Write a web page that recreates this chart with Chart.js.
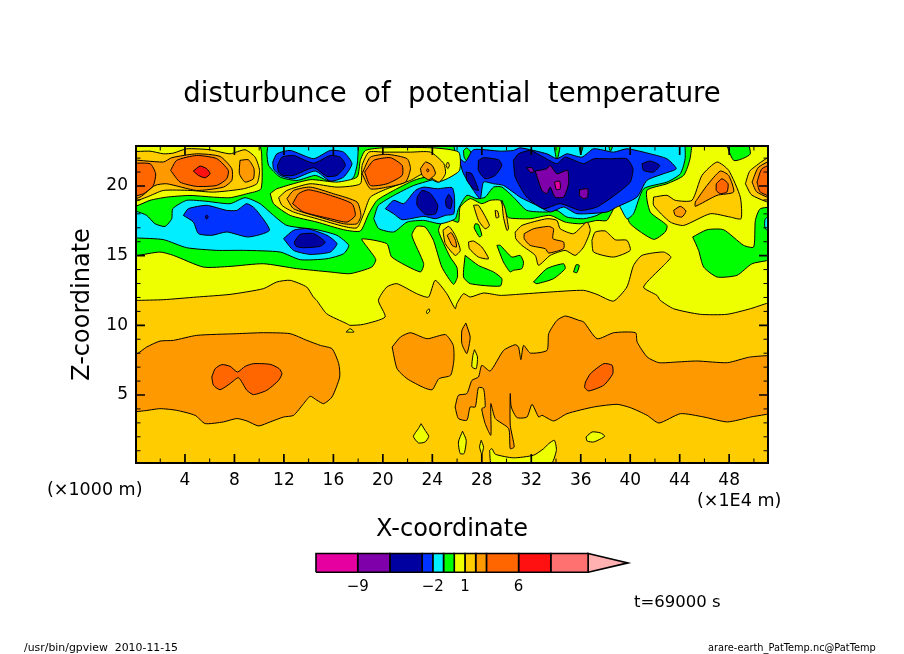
<!DOCTYPE html>
<html>
<head>
<meta charset="utf-8">
<title>disturbunce of potential temperature</title>
<script src="https://cdn.jsdelivr.net/npm/chart.js@4"></script>
<style>
  html, body { margin: 0; padding: 0; background: #fff; }
  #wrap { position: relative; width: 904px; height: 654px; overflow: hidden; }
  #plot { position: absolute; left: 0; top: 0; }
  #bar { position: absolute; left: 300px; top: 540px; }
</style>
</head>
<body>
<div id="wrap">
  <canvas id="plot" width="904" height="654"></canvas>
  <canvas id="bar" width="340" height="60"></canvas>
</div>
<script>
// axis ticks (x in 1E4 m, z in 1000 m)
const xMajor = [4, 8, 12, 16, 20, 24, 28, 32, 36, 40, 44, 48];
const xMinor = [2, 6, 10, 14, 18, 22, 26, 30, 34, 38, 42, 46, 50];
const yMajor = [5, 10, 15, 20];
const yMinor = [1, 2, 3, 4, 6, 7, 8, 9, 11, 12, 13, 14, 16, 17, 18, 19, 21, 22];

// colour bar
const barLevels = [-12.89, -9, -6, -3, -2, -1, 0, 1, 2, 3, 6, 9, 12.48];
const barColors = ['#e600a0', '#7f00aa', '#0000a0', '#0033ff', '#00eeff', '#00ff00', '#eeff00', '#ffcc00', '#ff9900', '#ff6600', '#ff1111', '#ff7070'];
const barLabels = [-9, -2, 1, 6];
const barTip = [[12.48, 0], [16.2, 0.5], [12.48, 1]];

// contour colours, one per band
const MAG = barColors[0], PUR = barColors[1], DBL = barColors[2], BLU = barColors[3], CYA = barColors[4], GRN = barColors[5];
const YEL = barColors[6], GLD = barColors[7], ORG = barColors[8], DOR = barColors[9], RED = barColors[10];

// contours, [x, z]
const goldBase = [[-1, -1], [52, -1], [52, 24], [-1, 24]];
const yellowTop = [[-1, 11.79], [0.04, 11.79], [2.25, 11.84], [4.94, 12.03], [7.64, 12.22], [10.34, 12.63], [11.42, 13.11], [12.5, 13.23], [13.84, 12.75], [14.38, 12.03], [14.65, 11.79], [15.46, 10.83], [17.08, 10.12], [17.35, 10.0], [18.43, 10.07], [20.18, 10.6], [19.64, 11.79], [20.32, 12.75], [21.13, 12.99], [22.74, 12.27], [23.69, 12.03], [24.23, 13.23], [25.17, 12.27], [25.85, 11.19], [25.98, 11.55], [26.52, 12.27], [27.06, 12.03], [28.14, 12.32], [29.49, 12.15], [30.83, 12.22], [33.53, 12.39], [36.23, 12.51], [37.31, 12.22], [38.65, 11.74], [39.73, 12.75], [40.27, 14.3], [40.95, 15.02], [42.7, 15.26], [43.29, 14.9], [42.7, 14.3], [41.08, 12.75], [42.16, 12.15], [42.43, 11.79], [43.51, 11.19], [45.67, 10.79], [47.82, 10.79], [49.71, 11.19], [51.14, 11.6], [52, 11.7], [52, 24], [-1, 24]];
const yellowNotch = [[17.03, 9.52], [17.35, 9.76], [17.67, 9.52]];
const yellowDot = [[23.72, 11.19], [23.8, 11.03], [23.58, 10.83], [23.53, 11.0]];
const yellowDrop = [[23.09, 2.94], [23.42, 2.46], [23.71, 2.03], [23.42, 1.63], [22.88, 1.56], [22.47, 2.03], [22.88, 2.6]];
const yellowA = [[26.44, 2.4], [26.74, 1.75], [26.57, 0.8], [26.25, 0.8], [26.11, 1.63]];
const yellowB = [[27.41, 8.25], [27.65, 7.73], [27.55, 6.89], [27.2, 7.01], [27.28, 7.85]];
const yellowC = [[27.95, 1.75], [28.14, 1.27], [28.0, 0.75], [27.82, 1.27]];
const yellowD = [[36.43, 1.99], [36.92, 2.35], [37.59, 2.28], [37.94, 2.04], [37.05, 1.63], [36.51, 1.7]];
const yellowFloor = [[28.63, 1.03], [28.82, 1.15], [29.09, 0.75], [30.57, 0.49], [32.19, 0.68], [33.0, 1.15], [33.41, 1.51], [33.87, 1.75], [34.03, 1.03], [33.54, 0], [28.82, 0]];

const orangeLeft = [[-1, 7.92], [0.04, 7.92], [0.9, 8.44], [1.98, 8.87], [3.06, 8.92], [4.95, 9.28], [8.19, 9.4], [10.34, 9.47], [12.5, 9.4], [13.86, 8.92], [14.94, 8.56], [15.89, 8.32], [16.43, 7.25], [16.51, 6.29], [15.89, 4.86], [15.21, 4.38], [14.67, 4.62], [14.13, 4.91], [13.59, 4.38], [12.78, 3.54], [11.97, 3.42], [10.89, 3.07], [9.95, 2.78], [9.0, 3.14], [8.19, 3.31], [7.11, 3.07], [5.63, 2.95], [4.82, 3.54], [3.33, 3.9], [1.98, 4.02], [0.63, 3.86], [-1, 3.86]];
const orangeMid = [[20.75, 8.44], [21.42, 9.16], [22.23, 9.47], [23.58, 9.04], [25.07, 9.33], [25.69, 8.56], [25.74, 7.49], [25.47, 6.41], [24.53, 6.17], [23.99, 5.38], [23.31, 5.53], [21.96, 6.17], [21.15, 6.89]];
const orangeRight = [[25.84, 4.14], [26.11, 4.98], [26.79, 5.1], [27.2, 6.05], [27.73, 6.29], [28.0, 7.13], [28.68, 6.72], [29.76, 8.2], [30.7, 8.61], [30.97, 8.44], [31.16, 7.54], [31.38, 8.56], [31.92, 8.01], [33.27, 8.2], [33.41, 9.4], [34.08, 10.36], [34.76, 10.67], [35.84, 10.36], [36.24, 10.24], [37.32, 9.04], [38.67, 9.47], [40.43, 9.47], [40.56, 8.8], [41.37, 7.73], [42.32, 7.32], [43.8, 7.37], [45.42, 7.44], [47.85, 7.32], [49.74, 7.73], [52, 7.68], [52, 3.95], [49.74, 3.42], [47.85, 3.07], [45.96, 3.42], [44.07, 3.66], [42.32, 2.99], [41.37, 3.54], [40.02, 4.09], [38.94, 4.33], [37.05, 4.14], [34.89, 3.66], [33.81, 3.14], [32.87, 3.54], [32.6, 3.42], [32.06, 4.33], [31.65, 3.42], [30.84, 3.38], [30.38, 4.14], [30.3, 5.1], [30.3, 2.83], [30.62, 1.27], [30.3, 1.15], [30.17, 2.59], [29.09, 3.31], [28.73, 4.38], [28.73, 2.11], [28.27, 2.95], [28.0, 4.02], [28.27, 4.14], [28.14, 5.46], [27.73, 5.53], [27.47, 4.14], [27.06, 4.14], [26.79, 3.19], [26.11, 3.31]];
const orangeSliver = [[26.71, 10.16], [27.06, 9.16], [26.79, 7.97], [26.39, 8.68], [26.39, 9.64]];
const darkLow = [[6.17, 6.29], [6.44, 6.89], [6.98, 7.18], [7.65, 7.06], [8.24, 6.65], [8.87, 7.06], [9.54, 7.25], [10.89, 7.2], [11.62, 6.89], [11.84, 6.53], [11.57, 6.05], [10.62, 5.34], [9.54, 5.03], [9.0, 5.34], [8.33, 6.24], [7.65, 5.82], [6.84, 5.38], [6.3, 5.7]];
const darkOval = [[36.38, 5.93], [36.78, 6.53], [37.86, 7.25], [38.54, 7.13], [38.59, 6.53], [37.86, 5.7], [36.65, 5.29], [36.32, 5.53]];

const greenMain = [[-1, 15.0], [0.04, 15.0], [1.98, 15.26], [3.06, 15.02], [5.49, 14.18], [7.64, 14.23], [10.34, 14.42], [13.03, 14.07], [15.73, 13.83], [17.35, 13.71], [19.1, 14.18], [19.43, 14.71], [18.83, 15.5], [18.3, 16.2], [20.32, 15.86], [20.72, 14.9], [23.03, 13.83], [23.3, 14.42], [22.35, 16.45], [22.74, 17.1], [23.42, 17.05], [24.09, 16.1], [24.77, 14.18], [25.71, 12.94], [26.03, 13.47], [25.98, 14.18], [25.44, 14.9], [24.92, 15.86], [24.5, 16.8], [24.77, 17.41], [25.44, 17.58], [26.11, 17.41], [26.25, 18.49], [27.06, 19.09], [28.0, 18.73], [28.68, 18.97], [29.49, 18.97], [29.89, 18.13], [30.16, 17.72], [31.91, 17.65], [33.53, 17.89], [34.74, 17.41], [35.96, 17.29], [37.31, 17.53], [38.11, 17.53], [38.92, 18.73], [39.46, 18.49], [40.0, 17.29], [41.89, 16.17], [42.83, 16.7], [42.97, 17.17], [41.62, 18.13], [41.35, 19.68], [42.97, 20.16], [44.32, 20.76], [44.86, 22.07], [44.8, 24], [10.07, 24], [10.2, 22.31], [10.15, 19.8], [8.99, 19.44], [7.64, 19.16], [6.3, 19.2], [4.4, 19.32], [2.52, 19.2], [1.17, 18.97], [0.04, 18.56], [-1, 18.56]];
const greenRight = [[45.05, 16.34], [46.21, 16.86], [47.55, 16.86], [49.17, 15.74], [49.98, 15.62], [50.12, 17.53], [50.52, 18.37], [52, 18.37], [52, 14.95], [49.85, 14.42], [48.63, 13.59], [47.02, 13.47], [45.94, 14.18], [45.53, 15.38]];
const greenCorner = [[47.42, 24], [48.36, 21.84], [49.71, 22.31], [49.04, 24]];
const greenA = [[27.46, 17.29], [27.73, 17.24], [28.0, 16.46], [27.81, 16.34], [27.38, 17.0]];
const greenB = [[29.22, 15.74], [29.49, 15.74], [30.43, 14.9], [31.1, 15.02], [31.37, 14.54], [31.24, 14.07], [30.56, 13.95], [30.29, 13.83], [29.75, 14.54]];
const greenC = [[26.65, 15.02], [27.73, 14.3], [28.95, 13.83], [29.62, 13.35], [29.49, 12.82], [27.06, 12.99], [26.52, 13.47]];
const greenD = [[32.18, 13.11], [33.26, 14.07], [34.61, 14.42], [34.74, 14.07], [33.8, 13.35], [32.45, 12.99]];
const greenE = [[35.42, 13.83], [35.63, 14.35], [35.88, 14.3], [35.69, 13.78]];

const cyanLeft = [[-1, 18.18], [0.04, 18.18], [0.9, 17.89], [1.58, 17.29], [2.39, 17.1], [2.93, 17.65], [3.01, 18.37], [4.14, 18.97], [5.76, 18.9], [7.64, 18.73], [8.86, 19.16], [10.07, 18.73], [11.16, 17.89], [12.24, 17.17], [14.67, 16.86], [16.29, 16.46], [17.24, 15.74], [16.83, 15.14], [15.48, 14.78], [13.32, 14.71], [11.7, 15.26], [8.73, 15.38], [6.57, 15.38], [4.14, 15.57], [2.25, 16.15], [0.04, 16.27], [-1, 16.27]];
const cyanTop = [[10.62, 22.31], [11.03, 24], [17.78, 24], [17.96, 21.84], [17.64, 20.64], [16.83, 20.16], [15.48, 20.4], [14.54, 20.76], [13.05, 20.4], [11.7, 20.64], [10.76, 21.48]];
const cyanBig = [[19.26, 17.65], [19.67, 16.94], [20.88, 16.7], [21.96, 17.41], [23.31, 17.53], [24.66, 17.29], [25.85, 17.65], [26.11, 18.37], [26.79, 19.33], [27.6, 19.09], [28.27, 19.2], [28.95, 19.92], [29.62, 19.92], [30.56, 19.2], [31.64, 18.25], [33.26, 18.13], [34.07, 18.25], [34.88, 17.77], [36.23, 17.65], [37.31, 17.89], [38.39, 18.49], [38.92, 18.85], [39.73, 17.65], [40.27, 18.01], [41.08, 19.8], [42.97, 20.28], [44.05, 20.88], [44.45, 22.07], [44.05, 24], [25.71, 24], [25.85, 22.31], [25.7, 21], [22.5, 20.04], [20.88, 19.32], [19.64, 18.61]];
const cyanEdge = [[52, 18.13], [50.93, 17.65], [50.93, 16.93], [52, 16.46]];
const greenIsle = [[26.52, 22.55], [26.79, 22.74], [27.11, 22.43], [27.11, 21.95], [26.79, 21.79], [26.57, 22.07]];
const greenSpikeA = [[33.67, 24], [34.07, 21.84], [34.47, 24]];
const greenSpikeB = [[35.7, 24], [36.0, 22.3], [36.4, 24]];
const greenSpikeC = [[38.0, 24], [38.4, 22.5], [38.9, 24]];

const blueLeft = [[3.87, 17.89], [4.27, 18.37], [5.76, 18.61], [7.38, 18.25], [8.19, 18.25], [8.99, 18.73], [9.67, 18.37], [10.83, 16.82], [9.13, 16.34], [7.38, 16.7], [6.17, 16.46], [5.09, 16.58], [4.68, 17.41]];
const blueMid = [[11.97, 16.22], [12.78, 16.82], [13.86, 16.94], [15.48, 16.46], [16.29, 15.86], [15.75, 15.26], [14.13, 15.09], [12.78, 15.38]];
const blueTop = [[11.1, 21.72], [11.43, 22.31], [12.51, 22.55], [14.4, 21.96], [15.75, 22.55], [16.83, 22.43], [17.5, 21.6], [16.83, 20.64], [15.75, 20.35], [14.54, 21.07], [12.78, 20.52], [11.7, 20.76], [11.16, 21.24]];
const blueRight = [[20.2, 18.37], [20.88, 18.97], [21.69, 18.73], [22.63, 19.68], [23.31, 19.92], [24.39, 19.8], [25.6, 19.88], [25.79, 19.2], [25.73, 18.0], [25.06, 17.89], [24.25, 17.65], [23.31, 17.82], [21.56, 17.58], [20.88, 18.0]];
const blueBig = [[26.11, 22.07], [26.65, 21.72], [27.33, 22.6], [29.49, 22.5], [30.56, 22.55], [31.1, 22.74], [33.26, 22.31], [34.07, 21.96], [34.88, 22.31], [36.09, 22.07], [37.04, 22.67], [38.65, 22.43], [39.73, 22.67], [41.62, 22.31], [42.97, 21.95], [43.72, 21.24], [42.7, 20.88], [41.35, 20.4], [40.54, 19.2], [38.92, 18.49], [38.11, 18.13], [35.69, 18.01], [34.61, 18.49], [33.53, 18.13], [32.45, 18.61], [31.1, 19.2], [29.75, 20.04], [28.95, 20.16], [28.14, 20.28], [27.87, 19.09], [27.33, 19.68], [26.52, 20.88]];

const deepDot = [[5.64, 17.77], [5.76, 17.92], [5.88, 17.77], [5.76, 17.62]];
const deepMid = [[12.83, 15.98], [13.32, 16.53], [14.4, 16.58], [15.34, 15.98], [14.94, 15.67], [13.59, 15.57], [12.97, 15.67]];
const deepTop = [[11.48, 21.48], [11.84, 22.07], [12.78, 22.19], [14.4, 21.64], [15.75, 22.19], [16.56, 22.07], [16.97, 21.48], [16.29, 20.76], [15.48, 20.69], [14.4, 21.31], [12.78, 20.76], [11.97, 20.76], [11.57, 21.0]];
const deepRightA = [[22.77, 19.2], [23.18, 19.68], [23.85, 19.45], [24.44, 18.61], [24.25, 18.0], [23.45, 17.96], [22.77, 18.61]];
const deepRightB = [[25.06, 18.97], [25.33, 19.4], [25.6, 18.97], [25.47, 18.37], [25.15, 18.49]];
const deepBig = [[30.56, 21.84], [30.97, 22.31], [31.91, 22.55], [32.99, 22.07], [34.07, 21.6], [34.74, 22.07], [36.23, 21.6], [37.04, 21.95], [38.39, 21.95], [39.73, 21.95], [40.22, 21.24], [40.0, 20.28], [38.92, 19.45], [37.31, 18.49], [35.96, 18.25], [34.34, 18.73], [32.99, 18.37], [31.64, 19.2], [30.7, 20.64]];
const deepA = [[27.73, 21.84], [28.14, 22.03], [29.35, 21.88], [29.62, 21.48], [29.08, 20.76], [28.27, 20.52], [27.73, 21.12]];
const deepB = [[26.73, 21.0], [27.19, 20.88], [27.73, 19.68], [27.33, 19.8], [26.79, 20.4]];
const deepC = [[40.95, 21.6], [41.62, 21.79], [42.38, 21.48], [41.89, 21.0], [41.08, 21.12]];
const purpleA = [[32.32, 21.07], [33.26, 21.24], [33.53, 21.48], [34.07, 20.88], [34.93, 21.12], [35.01, 20.16], [34.61, 19.2], [33.93, 19.2], [33.53, 19.92], [33.26, 19.45], [32.86, 19.68]];
const purpleB = [[31.64, 21.31], [32.05, 21.31], [32.24, 21.0], [31.91, 21.0]];
const purpleC = [[35.9, 19.73], [36.55, 19.8], [36.55, 19.2], [36.23, 19.09], [35.9, 19.32]];
const magentaCore = [[33.88, 20.28], [34.29, 20.35], [34.34, 19.8], [34.02, 19.75]];

const goldLeft = [[-1, 22.43], [1.17, 22.5], [2.25, 22.31], [3.06, 22.36], [4.14, 22.67], [6.03, 22.6], [7.64, 22.31], [8.86, 22.6], [9.67, 22.07], [10.03, 21.12], [9.81, 20.16], [8.73, 19.8], [6.3, 19.56], [4.41, 19.68], [2.25, 19.68], [0.9, 19.2], [-1, 18.73]];
const orangeTopLeft = [[-1, 21.95], [2.25, 21.72], [2.93, 22.03], [4.95, 22.31], [6.84, 22.12], [7.79, 21.24], [7.79, 20.4], [7.11, 19.92], [4.95, 19.68], [2.52, 20.16], [1.58, 20.04], [0.36, 19.2], [-1, 18.97]];
const orangeIsle = [[8.45, 21.84], [9.13, 21.88], [9.58, 21.24], [9.53, 20.52], [8.86, 20.28], [8.4, 20.88]];
const darkEdgeLeft = [[-1, 21.6], [1.17, 21.6], [1.63, 20.88], [1.44, 20.04], [0.63, 19.44], [-1, 19.2]];
const darkTopLeft = [[2.84, 21.12], [3.33, 21.84], [4.95, 22.19], [6.57, 21.96], [7.5, 21.12], [7.38, 20.52], [6.57, 20.04], [4.95, 19.97], [3.6, 20.28]];
const redCore = [[4.68, 21.07], [5.22, 21.43], [5.76, 21.24], [6.03, 20.88], [5.63, 20.59], [5.09, 20.76]];

const yellowMid = [[10.89, 19.45], [11.43, 19.8], [14.13, 20.45], [16.29, 20.28], [17.91, 20.64], [18.18, 21.84], [18.59, 22.55], [20.07, 22.74], [23.98, 22.74], [26.13, 22.43], [26.2, 21.12], [25.2, 20.52], [24.39, 20.28], [23.58, 20.64], [22.5, 20.4], [20.88, 19.68], [19.53, 18.97], [18.85, 18.0], [18.18, 16.77], [16.83, 16.86], [14.67, 17.41], [12.51, 17.89], [11.16, 18.73]];
const goldMid = [[11.57, 19.16], [12.24, 19.68], [14.13, 20.16], [16.29, 19.92], [18.18, 20.16], [18.32, 21.48], [18.86, 22.43], [20.07, 22.43], [22.23, 22.43], [23.85, 22.43], [24.93, 21.6], [25.06, 20.88], [24.53, 20.28], [23.31, 20.88], [22.23, 20.4], [20.34, 19.8], [18.99, 19.2], [18.45, 18.0], [17.91, 17.0], [16.83, 17.1], [14.67, 17.65], [12.78, 18.13], [11.84, 18.61]];
const orangeMidTop = [[12.24, 19.09], [12.78, 19.68], [14.13, 19.92], [16.02, 19.44], [17.91, 18.85], [18.23, 17.89], [17.91, 17.29], [16.83, 17.29], [14.67, 17.82], [12.78, 18.37]];
const darkMidTop = [[12.7, 18.73], [13.19, 19.45], [14.0, 19.73], [15.75, 19.33], [17.5, 18.73], [17.77, 17.89], [17.1, 17.41], [15.75, 17.65], [13.59, 18.13]];
const orangeNear = [[18.32, 20.88], [18.99, 22.07], [20.34, 22.27], [21.96, 21.96], [22.23, 21.24], [21.83, 20.28], [20.34, 19.92], [18.99, 19.8]];
const darkNear = [[18.53, 21.0], [19.26, 21.84], [20.61, 22.03], [21.56, 21.48], [21.56, 20.76], [20.34, 20.16], [18.99, 20.04]];
const orangeSmall = [[23.04, 21.24], [23.45, 21.72], [23.98, 21.48], [24.25, 20.88], [23.71, 20.45], [23.17, 20.76]];
const darkSpeck = [[23.53, 21.12], [23.63, 21.24], [23.73, 21.12], [23.63, 21.0]];
const goldSpeck = [[25.1, 21.48], [25.25, 21.72], [25.38, 21.48], [25.25, 21.25]];

const goldBlob = [[24.86, 16.82], [25.33, 17.1], [25.85, 16.46], [26.26, 15.38], [25.85, 15.02], [25.05, 15.86]];
const orangeBlob = [[25.2, 16.46], [25.53, 16.65], [25.87, 16.1], [25.95, 15.62], [25.6, 15.74]];
const goldA = [[30.7, 16.69], [31.24, 17.17], [33.26, 17.65], [34.07, 17.53], [34.34, 16.93], [35.42, 16.58], [36.5, 17.41], [36.77, 16.81], [36.23, 15.62], [35.55, 15.02], [34.74, 15.38], [33.53, 15.02], [32.59, 14.31], [32.32, 15.02], [31.24, 15.74], [30.75, 16.22]];
const orangeA = [[31.43, 16.58], [32.18, 16.93], [33.4, 17.1], [33.8, 16.93], [33.75, 16.22], [34.61, 15.98], [34.61, 15.5], [33.4, 15.19], [33.13, 15.5], [31.91, 15.74], [31.43, 16.22]];
const goldB = [[36.9, 16.1], [37.17, 16.69], [37.98, 16.77], [38.79, 16.14], [39.73, 16.1], [40.0, 15.38], [38.65, 14.9], [37.04, 15.26]];
const goldC = [[27.33, 18.61], [27.73, 18.61], [28.62, 17.17], [28.27, 16.93], [27.73, 17.53]];
const goldD = [[26.92, 15.98], [27.33, 16.05], [28.0, 15.62], [28.54, 14.78], [27.73, 14.9], [27.0, 15.5]];
const goldE = [[29.08, 18.25], [29.27, 18.2], [29.38, 17.77], [29.16, 17.72]];
const goldF = [[29.62, 18.97], [29.89, 18.37], [30.16, 16.93], [30.03, 16.81], [29.75, 17.77]];

const goldRight = [[41.89, 19.2], [42.97, 19.33], [43.64, 18.97], [44.99, 18.97], [45.8, 20.76], [47.02, 21.72], [47.96, 21.12], [48.9, 19.2], [48.96, 17.65], [48.09, 17.77], [46.48, 18.01], [44.32, 17.17], [43.24, 17.41], [41.89, 18.61]];
const orangeFar = [[45.26, 18.85], [46.21, 20.04], [47.28, 21.07], [47.96, 20.76], [48.36, 19.57], [47.02, 19.33], [45.26, 18.54]];
const darkFar = [[46.96, 20.16], [47.42, 20.52], [47.91, 20.16], [47.82, 19.57], [47.28, 19.45], [46.96, 19.68]];
const orangeLow = [[43.51, 18.25], [44.05, 18.54], [44.51, 18.2], [44.18, 17.77], [43.64, 17.89]];
const goldEdge = [[49.31, 20.16], [49.71, 21.12], [52, 22.36], [52, 18.73], [49.85, 19.33]];
const orangeEdge = [[49.85, 20.28], [50.39, 21.36], [52, 21.95], [52, 19.0], [50.25, 19.56]];
const darkEdge = [[50.25, 20.28], [50.66, 21.24], [52, 21.64], [52, 19.16], [50.52, 19.56]];

// painted in this order, later on top
const layers = [
  [goldBase, GLD], [yellowTop, YEL], [yellowNotch, YEL], [yellowDot, YEL], [yellowDrop, YEL], [yellowA, YEL], [yellowB, YEL], [yellowC, YEL], [yellowD, YEL], [yellowFloor, YEL],
  [orangeLeft, ORG], [orangeMid, ORG], [orangeRight, ORG], [orangeSliver, ORG], [darkLow, DOR], [darkOval, DOR],
  [greenMain, GRN], [greenRight, GRN], [greenCorner, GRN], [greenA, GRN], [greenB, GRN], [greenC, GRN], [greenD, GRN], [greenE, GRN],
  [cyanLeft, CYA], [cyanTop, CYA], [cyanBig, CYA], [cyanEdge, CYA], [greenIsle, GRN], [greenSpikeA, GRN], [greenSpikeB, GRN], [greenSpikeC, GRN],
  [blueLeft, BLU], [blueMid, BLU], [blueTop, BLU], [blueRight, BLU], [blueBig, BLU],
  [deepDot, DBL], [deepMid, DBL], [deepTop, DBL], [deepRightA, DBL], [deepRightB, DBL], [deepBig, DBL], [deepA, DBL], [deepB, DBL], [deepC, DBL],
  [purpleA, PUR], [purpleB, PUR], [purpleC, PUR], [magentaCore, MAG],
  [goldLeft, GLD], [orangeTopLeft, ORG], [orangeIsle, ORG], [darkEdgeLeft, DOR], [darkTopLeft, DOR], [redCore, RED],
  [yellowMid, YEL], [goldMid, GLD], [orangeMidTop, ORG], [darkMidTop, DOR], [orangeNear, ORG], [darkNear, DOR], [orangeSmall, ORG], [darkSpeck, DOR], [goldSpeck, GLD],
  [goldBlob, GLD], [orangeBlob, ORG], [goldA, GLD], [orangeA, ORG], [goldB, GLD], [goldC, GLD], [goldD, GLD], [goldE, GLD], [goldF, GLD],
  [goldRight, GLD], [orangeFar, ORG], [darkFar, DOR], [orangeLow, ORG], [goldEdge, GLD], [orangeEdge, ORG], [darkEdge, DOR]
];

function contour(points, color, i, total) {
  const data = points.map(p => ({ x: p[0], y: p[1] }));
  data.push({ x: points[0][0], y: points[0][1] });
  return {
    data: data,
    backgroundColor: color,
    borderColor: '#000',
    borderWidth: 1,
    pointRadius: 0,
    showLine: true,
    fill: 'shape',
    tension: 0.2,
    order: total - i
  };
}

// ticks point inward on all four sides, plus the loose labels
const framePlugin = {
  id: 'frame',
  afterDraw(chart) {
    const ctx = chart.ctx, a = chart.chartArea, sx = chart.scales.x, sy = chart.scales.y;
    ctx.save();
    ctx.strokeStyle = '#000';
    const hTick = (v, len) => {
      const p = sx.getPixelForValue(v);
      ctx.beginPath();
      ctx.moveTo(p, a.bottom); ctx.lineTo(p, a.bottom - len);
      ctx.moveTo(p, a.top); ctx.lineTo(p, a.top + len);
      ctx.stroke();
    };
    const vTick = (v, len) => {
      const p = sy.getPixelForValue(v);
      ctx.beginPath();
      ctx.moveTo(a.left, p); ctx.lineTo(a.left + len, p);
      ctx.moveTo(a.right, p); ctx.lineTo(a.right - len, p);
      ctx.stroke();
    };
    ctx.lineWidth = 1.7;
    xMajor.forEach(v => hTick(v, 9));
    yMajor.forEach(v => vTick(v, 9));
    ctx.lineWidth = 1;
    xMinor.forEach(v => hTick(v, 4.5));
    yMinor.forEach(v => vTick(v, 4.5));
    ctx.lineWidth = 2;
    ctx.strokeRect(a.left, a.top, a.right - a.left, a.bottom - a.top);

    ctx.fillStyle = '#000';
    ctx.textBaseline = 'middle';
    ctx.textAlign = 'left';
    ctx.font = '17.5px "DejaVu Sans"';
    ctx.fillText('(×1000 m)', 47, 490);
    ctx.fillText('(×1E4 m)', 697, 501);
    ctx.font = '16.5px "DejaVu Sans"';
    ctx.fillText('t=69000 s', 634, 603);
    ctx.font = '10.9px "DejaVu Sans"';
    ctx.fillText('/usr/bin/gpview  2010-11-15', 24, 648);
    ctx.font = '9.8px "DejaVu Sans"';
    ctx.fillText('arare-earth_PatTemp.nc@PatTemp', 708, 648);
    ctx.restore();
  }
};

new Chart(document.getElementById('plot'), {
  type: 'scatter',
  data: { datasets: layers.map((l, i) => contour(l[0], l[1], i, layers.length)) },
  plugins: [framePlugin],
  options: {
    responsive: false,
    animation: false,
    events: [],
    plugins: {
      legend: { display: false },
      tooltip: { enabled: false },
      title: {
        display: true,
        text: 'disturbunce  of  potential  temperature',
        color: '#000',
        font: { family: '"DejaVu Sans"', size: 27.5, weight: 'normal', lineHeight: 1.2 },
        padding: { top: 78, bottom: 35 }
      }
    },
    scales: {
      x: {
        type: 'linear',
        min: 0.04,
        max: 51.14,
        afterBuildTicks: s => { s.ticks = xMajor.map(v => ({ value: v })); },
        afterFit: s => { s.height = 191; },
        grid: { display: false, drawTicks: false },
        border: { display: false },
        ticks: { color: '#000', padding: 7, maxRotation: 0, autoSkip: false, font: { family: '"DejaVu Sans"', size: 17 } },
        title: { display: true, text: 'X-coordinate', color: '#000', font: { family: '"DejaVu Sans"', size: 24, lineHeight: 1.2 }, padding: { top: 0, bottom: 110 } }
      },
      y: {
        type: 'linear',
        min: 0.12,
        max: 22.87,
        afterBuildTicks: s => { s.ticks = yMajor.map(v => ({ value: v })); },
        afterFit: s => { s.width = 136; },
        grid: { display: false, drawTicks: false },
        border: { display: false },
        ticks: { color: '#000', padding: 8, autoSkip: false, font: { family: '"DejaVu Sans"', size: 17 } },
        title: { display: true, text: 'Z-coordinate', color: '#000', font: { family: '"DejaVu Sans"', size: 24, lineHeight: 1.2 }, padding: { top: 68, bottom: 0 } }
      },
      // empty right margin so the title centres on the whole page
      margin: {
        type: 'linear',
        position: 'right',
        afterFit: s => { s.width = 136; },
        grid: { display: false, drawTicks: false },
        border: { display: false },
        ticks: { display: false }
      }
    }
  }
});

// colour bar, its own small chart
const cells = barColors.map((c, i) => ({
  data: [[barLevels[i], 0], [barLevels[i + 1], 0], [barLevels[i + 1], 1], [barLevels[i], 1], [barLevels[i], 0]].map(p => ({ x: p[0], y: p[1] })),
  backgroundColor: c,
  borderColor: '#000',
  borderWidth: 1.6,
  pointRadius: 0,
  showLine: true,
  fill: 'shape',
  clip: false
}));
cells.push({
  data: barTip.concat([barTip[0]]).map(p => ({ x: p[0], y: p[1] })),
  backgroundColor: '#ffb0b0',
  borderColor: '#000',
  borderWidth: 1.6,
  pointRadius: 0,
  showLine: true,
  fill: 'shape',
  clip: false
});

new Chart(document.getElementById('bar'), {
  type: 'scatter',
  data: { datasets: cells },
  options: {
    responsive: false,
    animation: false,
    events: [],
    layout: { padding: { left: 16, right: 12, top: 13.5 } },
    plugins: { legend: { display: false }, tooltip: { enabled: false } },
    scales: {
      x: {
        type: 'linear',
        min: barLevels[0],
        max: barTip[1][0],
        afterBuildTicks: s => { s.ticks = barLabels.map(v => ({ value: v })); },
        afterFit: s => { s.height = 27.7; },
        grid: { display: false, drawTicks: false },
        border: { display: false },
        ticks: { color: '#000', padding: 6, autoSkip: false, maxRotation: 0, font: { family: '"DejaVu Sans"', size: 15 }, callback: v => String(v).replace('-', '−') }
      },
      y: { type: 'linear', min: 0, max: 1, display: false }
    }
  }
});
</script>
</body>
</html>
